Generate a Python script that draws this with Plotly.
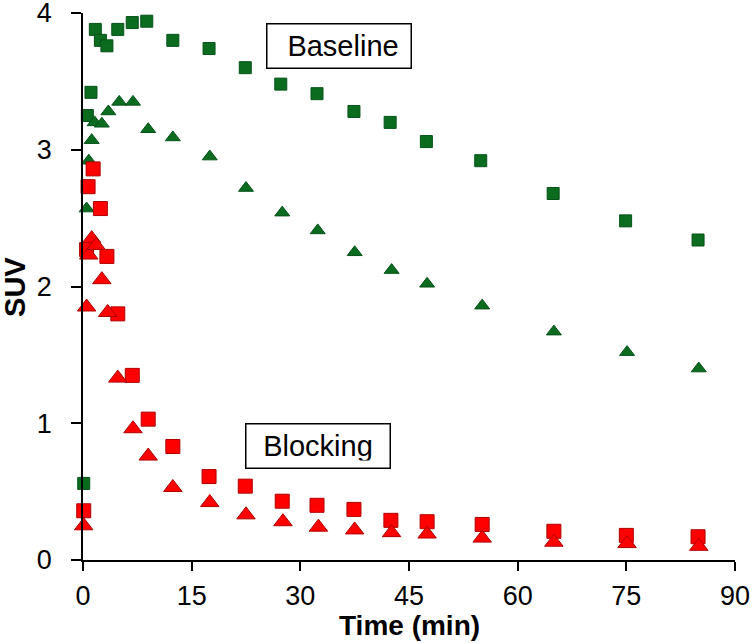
import plotly.graph_objects as go

# Baseline (green) squares
base_sq_t = [0.1, 0.6, 1.1, 1.7, 2.4, 3.3, 4.8, 6.8, 8.8, 12.4, 17.4, 22.4, 27.3, 32.3, 37.4, 42.4, 47.4, 54.9, 64.9, 74.9, 84.9]
base_sq_v = [0.56, 3.25, 3.42, 3.88, 3.80, 3.76, 3.88, 3.93, 3.94, 3.80, 3.74, 3.60, 3.48, 3.41, 3.28, 3.20, 3.06, 2.92, 2.68, 2.48, 2.34]

# Baseline (green) triangles
base_tr_t = [0.5, 0.8, 1.2, 1.6, 2.6, 3.5, 5.0, 6.9, 9.0, 12.4, 17.5, 22.5, 27.5, 32.4, 37.5, 42.6, 47.5, 55.1, 65.0, 75.1, 85.0]
base_tr_v = [2.57, 2.92, 3.07, 3.20, 3.19, 3.28, 3.35, 3.35, 3.15, 3.09, 2.95, 2.72, 2.54, 2.41, 2.25, 2.12, 2.02, 1.86, 1.67, 1.52, 1.40]

# Blocking (red) squares
blk_sq_t = [0.1, 0.5, 0.7, 1.4, 2.4, 3.3, 4.8, 6.8, 9.0, 12.4, 17.4, 22.4, 27.5, 32.3, 37.4, 42.5, 47.5, 55.1, 65.0, 75.0, 84.9]
blk_sq_v = [0.36, 2.27, 2.73, 2.86, 2.57, 2.22, 1.80, 1.35, 1.03, 0.83, 0.61, 0.54, 0.43, 0.40, 0.37, 0.29, 0.28, 0.26, 0.21, 0.18, 0.17]

# Blocking (red) triangles
blk_tr_t = [0.1, 0.5, 0.8, 1.2, 1.8, 2.6, 3.4, 4.8, 6.9, 9.0, 12.4, 17.5, 22.5, 27.6, 32.5, 37.5, 42.6, 47.5, 55.1, 65.0, 75.1, 85.0]
blk_tr_v = [0.25, 1.85, 2.23, 2.35, 2.30, 2.05, 1.81, 1.33, 0.96, 0.76, 0.53, 0.42, 0.33, 0.28, 0.24, 0.22, 0.20, 0.19, 0.16, 0.13, 0.12, 0.10]

x_ticks = [0, 15, 30, 45, 60, 75, 90]
y_ticks = [0, 1, 2, 3, 4]

GREEN = "#0b6b1e"
GREEN_EDGE = "#06521a"
RED = "#ff0000"
RED_EDGE = "#b00000"
FONT = "Arial, Liberation Sans, sans-serif"

fig = go.Figure()
fig.add_trace(go.Scatter(x=base_sq_t, y=base_sq_v, mode="markers",
                         marker=dict(symbol="square", size=12, color=GREEN,
                                     line=dict(color=GREEN_EDGE, width=1)),
                         cliponaxis=False))
fig.add_trace(go.Scatter(x=base_tr_t, y=base_tr_v, mode="markers",
                         marker=dict(symbol="triangle-up", size=13, color=GREEN,
                                     line=dict(color=GREEN_EDGE, width=1)),
                         cliponaxis=False))
fig.add_trace(go.Scatter(x=blk_sq_t, y=blk_sq_v, mode="markers",
                         marker=dict(symbol="square", size=14, color=RED,
                                     line=dict(color=RED_EDGE, width=1)),
                         cliponaxis=False))
fig.add_trace(go.Scatter(x=blk_tr_t, y=blk_tr_v, mode="markers",
                         marker=dict(symbol="triangle-up", size=16, color=RED,
                                     line=dict(color=RED_EDGE, width=1)),
                         cliponaxis=False))

fig.add_annotation(x=35.27, y=3.762, xref="x", yref="y", text=" Baseline",
                   showarrow=False, font=dict(family=FONT, size=29, color="black"),
                   bordercolor="black", borderwidth=1.5, borderpad=7,
                   bgcolor="white", width=129, height=29, align="center")
fig.add_annotation(x=32.37, y=0.834, xref="x", yref="y", text="Blocking",
                   showarrow=False, font=dict(family=FONT, size=29, color="black"),
                   bordercolor="black", borderwidth=1.5, borderpad=7,
                   bgcolor="white", width=129, height=29, align="center")

# axis titles
fig.add_annotation(x=0.5, y=-0.119, xref="paper", yref="paper",
                   text="<b>Time (min)</b>", showarrow=False,
                   font=dict(family=FONT, size=28, color="black"),
                   xanchor="center", yanchor="middle")
fig.add_annotation(x=-0.1045, y=0.499, xref="paper", yref="paper",
                   text="<b>SUV</b>", showarrow=False, textangle=-90,
                   font=dict(family=FONT, size=29, color="black"),
                   xanchor="center", yanchor="middle")

fig.update_layout(
    width=755, height=643,
    margin=dict(l=83, r=20, t=13, b=83, autoexpand=False),
    paper_bgcolor="white", plot_bgcolor="white",
    showlegend=False,
    font=dict(family=FONT, color="black"),
    xaxis=dict(range=[0, 90], tickvals=x_ticks, ticktext=[str(v) for v in x_ticks],
               showgrid=False, zeroline=False, showline=True, linecolor="black",
               linewidth=1.5, ticks="outside", ticklen=9, tickwidth=1.5,
               tickcolor="black", tickfont=dict(size=27, family=FONT),
               ticklabelstandoff=2, automargin=False, ticklabeloverflow="allow"),
    yaxis=dict(range=[0, 4], tickvals=y_ticks, ticktext=[str(v) for v in y_ticks],
               showgrid=False, zeroline=False, showline=True, linecolor="black",
               linewidth=1.5, ticks="outside", ticklen=10, tickwidth=1.5,
               tickcolor="black", tickfont=dict(size=27, family=FONT),
               ticklabelstandoff=14, automargin=False, ticklabeloverflow="allow"),
)

fig.write_html("out.html", config={"displayModeBar": False},
               post_script="document.body.style.margin='0';document.body.style.overflow='hidden';")
